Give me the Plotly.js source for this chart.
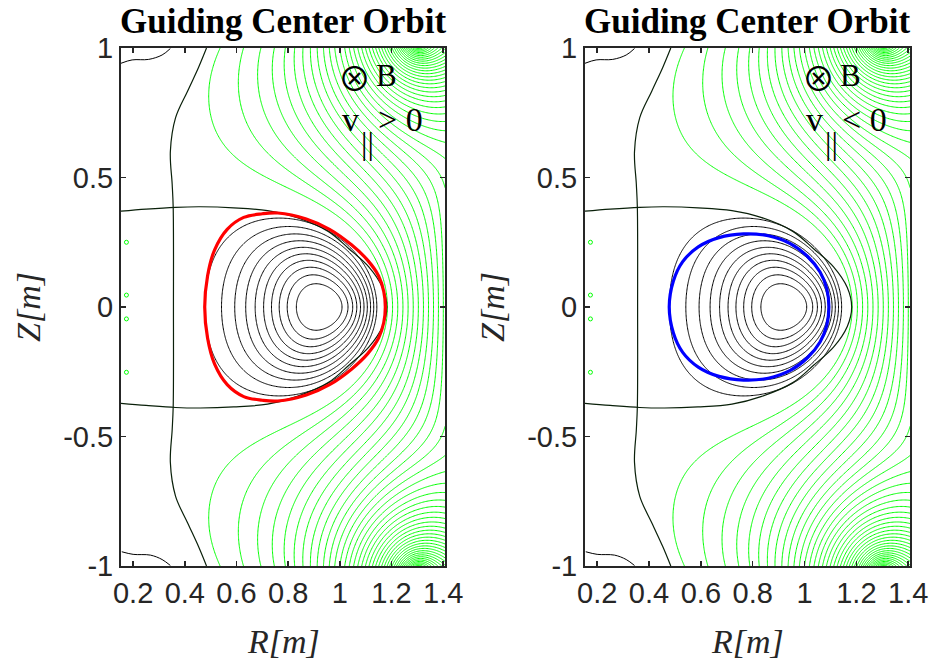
<!DOCTYPE html>
<html>
<head>
<meta charset="utf-8">
<script src="https://cdn.plot.ly/plotly-3.0.1.min.js"></script>
<style>
  html, body { margin: 0; padding: 0; background: #ffffff; }
  #chart { width: 937px; height: 669px; }
</style>
</head>
<body>
<div id="chart"></div>
<script>
// ===== flux-surface data (R, Z in metres; flux normalised: axis = 1, separatrix = 0) =====
// magnetic axis
const axisR = 0.905, axisZ = 0.0;
// midplane crossings of closed surfaces
const surfR   = [0.989, 0.825, 1.021, 0.786, 1.049, 0.750, 1.073, 0.720, 1.092, 0.692, 1.111, 0.662,
                 1.127, 0.634, 1.140, 0.602, 1.153, 0.563, 1.163, 0.530, 1.171, 0.500];
const surfZ   = [0, 0, 0, 0, 0, 0, 0, 0, 0, 0, 0, 0, 0, 0, 0, 0, 0, 0, 0, 0, 0, 0];
const surfPsi = [0.913, 0.913, 0.826, 0.826, 0.739, 0.739, 0.652, 0.652, 0.565, 0.565, 0.478, 0.478,
                 0.391, 0.391, 0.304, 0.304, 0.217, 0.217, 0.130, 0.130, 0.043, 0.043];
// top and shoulder points of the same surfaces (upper half; the map is up-down symmetric)
const topR   = [0.900, 0.895, 0.890, 0.880, 0.870, 0.860, 0.850, 0.840, 0.830, 0.815, 0.800,
                0.963, 0.848, 0.985, 0.822, 1.007, 0.795];
const topZ   = [0.089, 0.126, 0.158, 0.184, 0.210, 0.233, 0.255, 0.274, 0.291, 0.308, 0.323,
                0.058, 0.057, 0.083, 0.083, 0.104, 0.110];
const topPsi = [0.913, 0.826, 0.739, 0.652, 0.565, 0.478, 0.391, 0.304, 0.217, 0.130, 0.043,
                0.913, 0.913, 0.826, 0.826, 0.739, 0.739];
// separatrix (flux 0)
const sepR = [0.153, 0.250, 0.364, 0.460, 0.589, 0.720, 0.835, 0.955, 1.035, 1.112, 1.165, 1.182];
const sepZ = [0.370, 0.378, 0.385, 0.387, 0.383, 0.372, 0.345, 0.292, 0.225, 0.155, 0.075, 0.000];
// open field-line crossings
const openR   = [1.195, 1.400, 0.757, 0.550, 0.520, 0.667, 0.847, 0.570, 0.628, 0.686, 0.731, 0.776, 0.815, 0.854, 0.886, 0.918, 0.950];
const openZ   = [0, 0, 0.426, 0.606, 0.773, 0.606, 0.452, 1, 1, 1, 1, 1, 1, 1, 1, 1, 1];
const openPsi = [-0.17, -1.97, -0.17, -0.17, -0.17, -0.32, -0.32, -0.17, -0.32, -0.47, -0.62, -0.77, -0.92, -1.07, -1.22, -1.37, -1.52];
// nearly field-free region beside the centre column
const vacR   = [0.20, 0.30, 0.25, 0.35, 0.40, 0.45, 0.42, 0.45, 0.38, 0.20, 0.30, 0.42, 0.48, 0.20, 0.35, 0.46, 0.25, 0.42, 0.50];
const vacZ   = [0.00, 0.00, 0.25, 0.15, 0.00, 0.00, 0.20, 0.30, 0.32, 0.50, 0.50, 0.50, 0.55, 0.75, 0.75, 0.80, 0.95, 0.97, 0.45];
const vacPsi = [-0.03, -0.03, -0.03, -0.02, -0.01, -0.005, -0.01, -0.01, -0.01, -0.05, -0.05, -0.05, -0.06, -0.05, -0.05, -0.07, -0.05, -0.07, -0.07];

// current rings of the flux model: [R, Z, core radius]; rings with Z > 0 come with their mirror image
const plasmaRings = [[0.91, 0, 0.13], [0.85, 0, 0.24], [0.72, 0, 0.22], [1.02, 0, 0.12], [0.88, 0.15, 0.15]];
const coilRings   = [[1.30, 1.03, 0.02], [0.15, 1.06, 0.03], [0.60, 1.12, 0.03], [0.12, 0, 0.05], [0.12, 0.45, 0.05]];

// contour levels drawn
const closedLevels = { start: 0.130, end: 0.913, size: 0.087 };
const openLevels   = { start: -9.17, end: -0.17, size: 0.15 };

// ===== guiding-centre orbits =====
const orbitPlusR = [1.176, 1.170, 1.150, 1.108, 1.045, 0.960, 0.870, 0.760, 0.700, 0.628, 0.564, 0.515, 0.488, 0.477,
                    0.488, 0.515, 0.564, 0.628, 0.700, 0.760, 0.870, 0.960, 1.045, 1.108, 1.150, 1.170, 1.176];
const orbitPlusZ = [0.000, 0.060, 0.120, 0.180, 0.240, 0.300, 0.340, 0.363, 0.360, 0.346, 0.300, 0.220, 0.120, 0.000,
                    -0.120, -0.220, -0.300, -0.346, -0.360, -0.363, -0.340, -0.300, -0.240, -0.180, -0.120, -0.060, 0.000];
const orbitMinusR = [1.094, 1.086, 1.060, 1.012, 0.945, 0.860, 0.765, 0.670, 0.590, 0.530, 0.494, 0.478,
                     0.494, 0.530, 0.590, 0.670, 0.765, 0.860, 0.945, 1.012, 1.060, 1.086, 1.094];
const orbitMinusZ = [0.000, 0.070, 0.135, 0.195, 0.245, 0.275, 0.282, 0.268, 0.232, 0.175, 0.100, 0.000,
                     -0.100, -0.175, -0.232, -0.268, -0.282, -0.275, -0.245, -0.195, -0.135, -0.070, 0.000];

// ===== drawn separatrix and column-side flux lines =====
const sepLineR = [0.153, 0.250, 0.364, 0.460, 0.589, 0.720, 0.835, 0.955, 1.035, 1.112, 1.165, 1.182,
                  1.165, 1.112, 1.035, 0.955, 0.835, 0.720, 0.589, 0.460, 0.364, 0.250, 0.153];
const sepLineZ = [0.370, 0.378, 0.385, 0.387, 0.383, 0.372, 0.345, 0.292, 0.225, 0.155, 0.075, 0.000,
                  -0.075, -0.155, -0.225, -0.292, -0.345, -0.375, -0.386, -0.390, -0.388, -0.380, -0.372];
const columnR = [0.484, 0.453, 0.411, 0.364, 0.344, 0.351, 0.355, 0.356, 0.355, 0.351, 0.344, 0.364, 0.411, 0.453, 0.484];
const columnZ = [1.000, 0.925, 0.834, 0.730, 0.600, 0.475, 0.385, 0.000, -0.385, -0.475, -0.600, -0.730, -0.834, -0.925, -1.000];
const cornerTopR = [0.153, 0.196, 0.260, 0.312, 0.344];
const cornerTopZ = [0.941, 0.954, 0.956, 0.973, 0.998];
const cornerBotR = [0.156, 0.200, 0.267, 0.312, 0.344];
const cornerBotZ = [-0.945, -0.955, -0.958, -0.975, -0.998];
const islandR = [0.174, 0.174, 0.174, 0.174];
const islandZ = [0.250, 0.046, -0.046, -0.252];

// ===== axes =====
const rRange = [0.153, 1.407];
const zRange = [-1, 1];
const rTicks = [0.2, 0.4, 0.6, 0.8, 1.0, 1.2, 1.4];
const rTickText = ['0.2', '0.4', '0.6', '0.8', '1', '1.2', '1.4'];
const zTicks = [-1, -0.5, 0, 0.5, 1];
const zTickText = ['-1', '-0.5', '0', '0.5', '1'];

// ---------- field model ----------
// complete elliptic integrals K(m), E(m) from the arithmetic-geometric mean
function ellipKE(m) {
  let a = 1, b = Math.sqrt(1 - m), c = Math.sqrt(m);
  let sum = 0.5 * c * c, p = 1;
  for (let i = 0; i < 30; i++) {
    const an = (a + b) / 2, bn = Math.sqrt(a * b), cn = (a - b) / 2;
    p *= 2;
    sum += 0.5 * p * cn * cn;
    a = an; b = bn;
    if (Math.abs(cn) < 1e-13) break;
  }
  const K = Math.PI / (2 * a);
  return [K, K * (1 - sum)];
}
// poloidal flux of a unit-current ring with a softened core
function ringFlux(R, Z, Rc, Zc, core) {
  const d2 = (R + Rc) * (R + Rc) + (Z - Zc) * (Z - Zc) + core * core;
  const m = 4 * R * Rc / d2;
  const ke = ellipKE(m);
  return Math.sqrt(R * Rc) / Math.sqrt(m) * ((2 - m) * ke[0] - 2 * ke[1]);
}
const ringBasis = ([rc, zc, a]) => zc > 0
  ? (R, Z) => ringFlux(R, Z, rc, zc, a) + ringFlux(R, Z, rc, -zc, a)
  : (R, Z) => ringFlux(R, Z, rc, zc, a);
// basis: plasma rings, coils, and even vacuum harmonics
const basis = plasmaRings.map(ringBasis).concat(coilRings.map(ringBasis));
basis.push((R, Z) => R * R);
basis.push((R, Z) => R ** 4 - 4 * R * R * Z * Z);
basis.push((R, Z) => R ** 6 - 12 * R ** 4 * Z * Z + 8 * R * R * Z ** 4);
basis.push((R, Z) => R ** 8 - 24 * R ** 6 * Z * Z + 48 * R ** 4 * Z ** 4 - 12.8 * R * R * Z ** 6);

// weighted, regularised least squares for the source strengths
function fitSources() {
  const rows = [], rhs = [], wts = [];
  const add = (R, Z, v, w) => { rows.push(basis.map(f => f(R, Z))); rhs.push(v); wts.push(w); };
  add(axisR, axisZ, 1, 3);
  const h = 1e-3;
  rows.push(basis.map(f => (f(axisR + h, axisZ) - f(axisR - h, axisZ)) / (2 * h))); rhs.push(0); wts.push(0.3);
  surfR.forEach((r, i) => add(r, surfZ[i], surfPsi[i], i < 8 ? 3 : 1));
  topR.forEach((r, i) => add(r, topZ[i], topPsi[i], (i < 4 || i > 10) ? 4 : 1));
  sepR.forEach((r, i) => add(r, sepZ[i], 0, 1));
  openR.forEach((r, i) => add(r, openZ[i], openPsi[i], 1.5));
  vacR.forEach((r, i) => add(r, vacZ[i], vacPsi[i], 3));
  const n = basis.length;
  const M = Array.from({ length: n }, () => new Array(n).fill(0));
  const v = new Array(n).fill(0);
  rows.forEach((row, k) => {
    const w = wts[k] * wts[k];
    for (let p = 0; p < n; p++) {
      v[p] += w * row[p] * rhs[k];
      for (let q = 0; q < n; q++) M[p][q] += w * row[p] * row[q];
    }
  });
  for (let p = 0; p < n; p++) M[p][p] *= 1 + 1e-4;
  // Gaussian elimination with partial pivoting
  for (let c = 0; c < n; c++) {
    let piv = c;
    for (let r = c + 1; r < n; r++) if (Math.abs(M[r][c]) > Math.abs(M[piv][c])) piv = r;
    [M[c], M[piv]] = [M[piv], M[c]]; [v[c], v[piv]] = [v[piv], v[c]];
    for (let r = c + 1; r < n; r++) {
      const f = M[r][c] / M[c][c];
      for (let q = c; q < n; q++) M[r][q] -= f * M[c][q];
      v[r] -= f * v[c];
    }
  }
  const x = new Array(n).fill(0);
  for (let r = n - 1; r >= 0; r--) {
    let s = v[r];
    for (let q = r + 1; q < n; q++) s -= M[r][q] * x[q];
    x[r] = s / M[r][r];
  }
  return x;
}
const strength = fitSources();
const flux = (R, Z) => basis.reduce((s, f, j) => s + strength[j] * f(R, Z), 0);

const nR = 252, nZ = 401;
const gridR = [], gridZ = [];
for (let i = 0; i < nR; i++) gridR.push(rRange[0] + (rRange[1] - rRange[0]) * i / (nR - 1));
for (let j = 0; j < nZ; j++) gridZ.push(zRange[0] + (zRange[1] - zRange[0]) * j / (nZ - 1));
const psiMap = gridZ.map(z => gridR.map(r => flux(r, z)));

// ---------- traces ----------
const INK = '#262626';
function contourTrace(levels, color, xa, ya) {
  return {
    type: 'contour', x: gridR, y: gridZ, z: psiMap, xaxis: xa, yaxis: ya,
    contours: { coloring: 'lines', start: levels.start, end: levels.end, size: levels.size, showlabels: false },
    colorscale: [[0, color], [1, color]], showscale: false,
    line: { width: 1, smoothing: 0.8 }, hoverinfo: 'skip'
  };
}
function lineTrace(x, y, color, width, xa, ya) {
  return {
    type: 'scatter', mode: 'lines', x: x, y: y, xaxis: xa, yaxis: ya,
    line: { color: color, width: width, shape: 'spline', smoothing: 1 },
    hoverinfo: 'skip', showlegend: false
  };
}
function panelTraces(xa, ya, orbitR, orbitZ, orbitColor) {
  return [
    contourTrace(openLevels, '#00ff00', xa, ya),
    contourTrace(closedLevels, '#000000', xa, ya),
    lineTrace(sepLineR, sepLineZ, '#0a200a', 1.2, xa, ya),
    lineTrace(columnR, columnZ, '#0a200a', 1.2, xa, ya),
    lineTrace(cornerTopR, cornerTopZ, '#000000', 1, xa, ya),
    lineTrace(cornerBotR, cornerBotZ, '#000000', 1, xa, ya),
    {
      type: 'scatter', mode: 'markers', x: islandR, y: islandZ, xaxis: xa, yaxis: ya,
      marker: { symbol: 'circle-open', size: 4, color: '#00ff00', line: { width: 1, color: '#00ff00' } },
      hoverinfo: 'skip', showlegend: false
    },
    lineTrace(orbitR, orbitZ, orbitColor, 3.2, xa, ya)
  ];
}
const traces = [].concat(
  panelTraces('x', 'y', orbitPlusR, orbitPlusZ, '#ff0000'),
  panelTraces('x2', 'y2', orbitMinusR, orbitMinusZ, '#0000ff')
);

// ---------- layout ----------
const tickFont = { family: 'Liberation Sans, Arial, sans-serif', size: 29, color: INK };
function axisStyle(domain, anchor, range, vals, text) {
  return {
    domain: domain, anchor: anchor, range: range, tickvals: vals, ticktext: text,
    ticks: 'inside', ticklen: 5, tickwidth: 1.5, tickcolor: INK,
    showline: true, linecolor: INK, linewidth: 2, mirror: 'ticks',
    showgrid: false, zeroline: false, tickfont: tickFont
  };
}
const W = 937, H = 669;
const px = v => v / W;
const py = v => 1 - v / H;
const yDom = [py(566), py(48)];
const serif = 'Liberation Serif, Times New Roman, serif';

function panelNotes(dx, sign) {
  const note = (text, x, y, font, extra) => Object.assign({
    text: text, x: px(x + dx), y: py(y), xref: 'paper', yref: 'paper',
    xanchor: 'center', yanchor: 'middle', showarrow: false, font: font
  }, extra || {});
  return [
    note('<b>Guiding Center Orbit</b>', 283, 22, { family: serif, size: 35, color: '#000' }),
    note('<i>R[m]</i>', 283, 641, { family: serif, size: 34, color: INK }),
    note('<i>Z[m]</i>', 28, 307, { family: serif, size: 34, color: INK }, { textangle: -90 }),
    note('\u2297', 354, 77, { family: 'Noto Sans CJK JP, DejaVu Sans, sans-serif', size: 33, color: '#000' }),
    note('B', 386, 75, { family: serif, size: 31, color: '#000' }),
    note('v', 350, 119, { family: serif, size: 34, color: '#000' }),
    note('||', 367, 143, { family: serif, size: 32, color: '#000' }),
    note(sign + ' 0', 376, 120, { family: serif, size: 34, color: '#000' }, { xanchor: 'left' })
  ];
}

const layout = {
  width: W, height: H, margin: { l: 0, r: 0, t: 0, b: 0 },
  paper_bgcolor: '#ffffff', plot_bgcolor: '#ffffff', showlegend: false,
  xaxis: axisStyle([px(121), px(445)], 'y', rRange, rTicks, rTickText),
  yaxis: axisStyle(yDom, 'x', zRange, zTicks, zTickText),
  xaxis2: axisStyle([px(585), px(910)], 'y2', rRange, rTicks, rTickText),
  yaxis2: axisStyle(yDom, 'x2', zRange, zTicks, zTickText),
  annotations: [].concat(panelNotes(0, '&gt;'), panelNotes(464, '&lt;'))
};

Plotly.newPlot('chart', traces, layout, { staticPlot: true, displayModeBar: false });
</script>
</body>
</html>
